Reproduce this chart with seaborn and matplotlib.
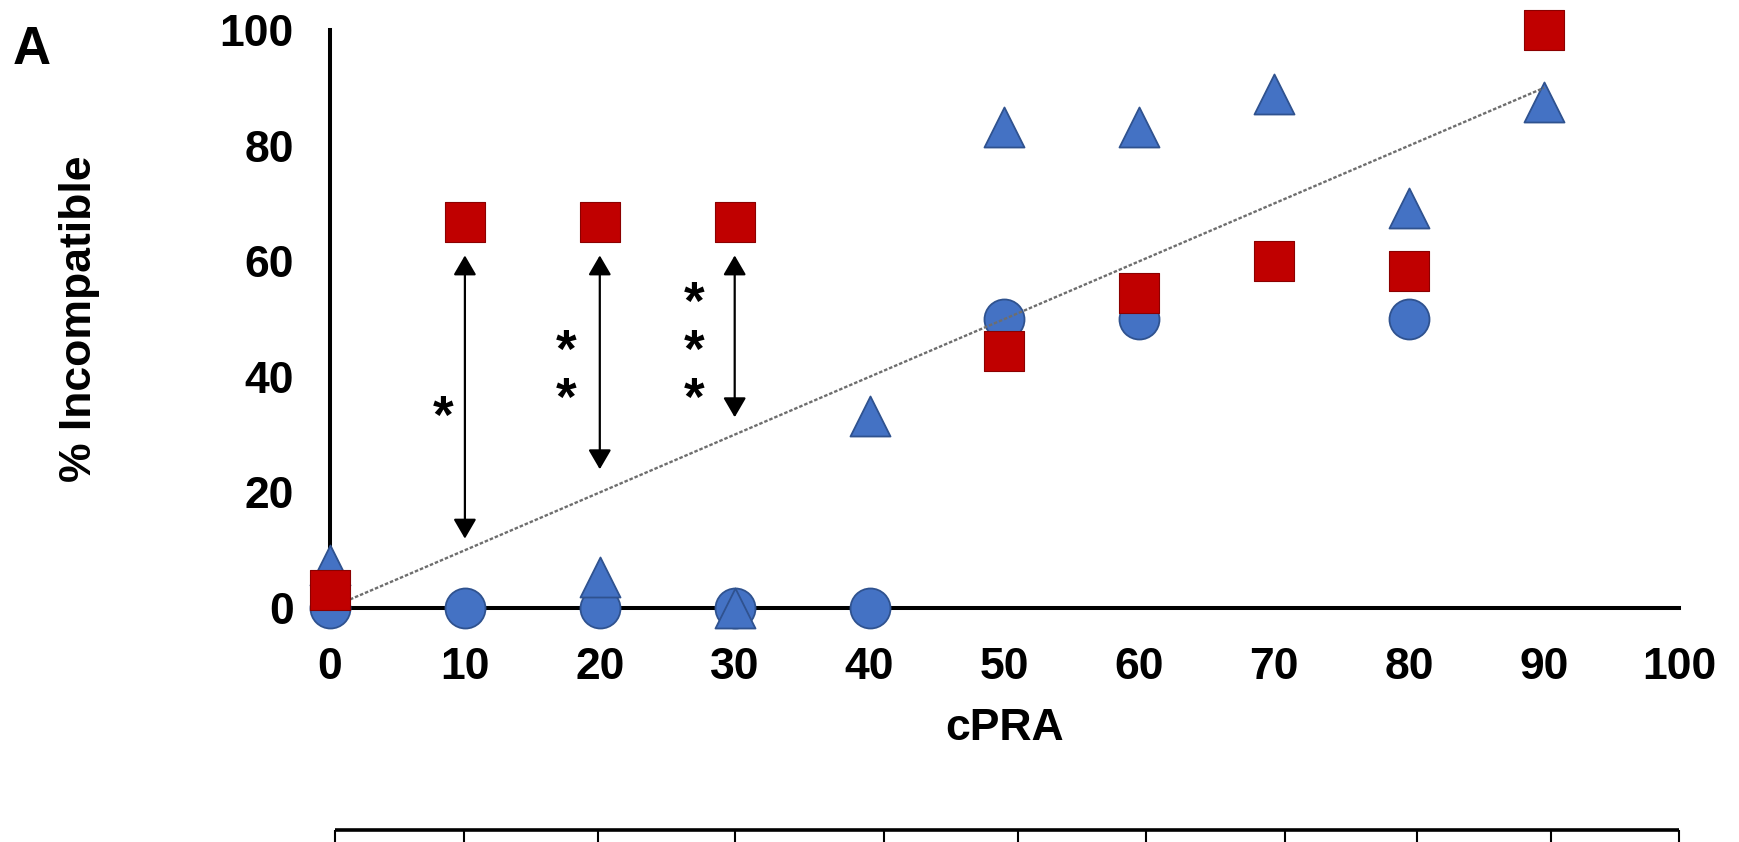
import matplotlib
matplotlib.use("Agg")
import matplotlib.pyplot as plt
import seaborn as sns

# ---------------- data ----------------
cpra_circle = [0, 10, 20, 30, 40, 50, 60, 80]
pct_circle = [0, 0, 0, 0, 0, 50, 50, 50]

cpra_triangle = [0, 20, 30, 40, 50, 60, 70, 80, 90]
pct_triangle = [7.4, 5.4, 0, 33.3, 83.3, 83.3, 88.9, 69.2, 87.5]

cpra_square = [0, 10, 20, 30, 50, 60, 70, 80, 90]
pct_square = [3.2, 66.7, 66.7, 66.7, 44.4, 54.5, 60, 58.3, 100]

ref_x = [0, 90]
ref_y = [0, 90]

arrow_x = [10, 20, 30]
arrow_top = [61, 61, 61]
arrow_bottom = [12, 24, 33]

sig_labels = ["*", "**", "***"]
sig_x = [8.4, 17.5, 27.0]
sig_y = [34.3, 41.6, 45.7]

x_ticks = [0, 10, 20, 30, 40, 50, 60, 70, 80, 90, 100]
y_ticks = [0, 20, 40, 60, 80, 100]
table_edges = [0.4, 9.9, 19.9, 30.0, 41.1, 51.0, 60.5, 70.8, 80.6, 90.5, 100]

panel_label = "A"
x_label = "cPRA"
y_label = "% Incompatible"

# ---------------- style ----------------
sns.set_theme(style="white")
plt.rcParams["font.family"] = ["Liberation Sans", "DejaVu Sans"]
plt.rcParams["font.weight"] = "bold"

BLUE = "#4472C4"
BLUE_EDGE = "#2F528F"
RED = "#C00000"
RED_EDGE = "#8B0000"

W, H = 1740, 842
fig = plt.figure(figsize=(W / 100, H / 100), dpi=100)
ax = fig.add_axes([330 / W, (H - 608) / H, 1349 / W, 578 / H])

msize = 830
sns.scatterplot(x=cpra_circle, y=pct_circle, marker="o", s=msize, color=BLUE,
                edgecolor=BLUE_EDGE, linewidth=1.3, ax=ax, zorder=3, clip_on=False)
sns.scatterplot(x=cpra_triangle, y=pct_triangle, marker="^", s=msize, color=BLUE,
                edgecolor=BLUE_EDGE, linewidth=1.3, ax=ax, zorder=4, clip_on=False)
sns.lineplot(x=ref_x, y=ref_y, color="#6e6e6e", linewidth=1.7,
             linestyle=(0, (1.5, 0.8)), ax=ax, zorder=4.5)
sns.scatterplot(x=cpra_square, y=pct_square, marker="s", s=msize, color=RED,
                edgecolor=RED_EDGE, linewidth=0.8, ax=ax, zorder=5, clip_on=False)

# significance arrows
for xa, yt, yb in zip(arrow_x, arrow_top, arrow_bottom):
    ax.annotate("", xy=(xa, yt), xytext=(xa, yb),
                arrowprops=dict(arrowstyle="<|-|>,head_length=0.6,head_width=0.35",
                                color="black", lw=1.6, shrinkA=0, shrinkB=0,
                                mutation_scale=20), zorder=6)

for lab, xs, ys in zip(sig_labels, sig_x, sig_y):
    ax.text(xs, ys - 1.6, "\n".join(lab), ha="center", va="center", fontsize=38,
            fontweight="bold", color="black", linespacing=0.95, zorder=6)

ax.set_xlim(0, 100)
ax.set_ylim(0, 100)
ax.set_xticks(x_ticks)
ax.set_yticks(y_ticks)
ax.set_xticklabels([str(t) for t in x_ticks])
ax.set_yticklabels([str(t) for t in y_ticks])

for side in ["top", "right"]:
    ax.spines[side].set_visible(False)
for side in ["left", "bottom"]:
    ax.spines[side].set_linewidth(2.9)
    ax.spines[side].set_color("black")
    ax.spines[side].set_capstyle("projecting")

ax.tick_params(axis="both", which="major", direction="out", length=10, width=2.2,
               color="black", labelsize=32, labelcolor="black")
ax.tick_params(axis="x", pad=18)
ax.tick_params(axis="y", pad=16)
for lab in ax.get_xticklabels() + ax.get_yticklabels():
    lab.set_fontweight("bold")

ax.set_xlabel(x_label, fontsize=32, fontweight="bold", color="black")
ax.set_ylabel(y_label, fontsize=32, fontweight="bold", color="black")
ax.xaxis.set_label_coords(0.5, (608 - 728) / 578)
ax.xaxis.label.set_va("center")
ax.yaxis.set_label_coords((80 - 330) / 1349, 0.5)
ax.yaxis.label.set_va("center")
ax.yaxis.label.set_ha("center")

fig.text(32 / W, 1 - 50 / H, panel_label, ha="center", va="center",
         fontsize=38, fontweight="bold", color="black")

# truncated table header at the bottom
ax2 = fig.add_axes([330 / W, 0, 1349 / W, 12 / H])
ax2.set_xlim(0, 100)
ax2.set_ylim(0, 1)
ax2.axis("off")
ax2.hlines(1, table_edges[0], table_edges[-1], color="black", linewidth=2.6,
           clip_on=False)
ax2.vlines(table_edges, 0, 1, color="black", linewidth=1.5, clip_on=False)

fig.savefig("out.png", dpi=100)
